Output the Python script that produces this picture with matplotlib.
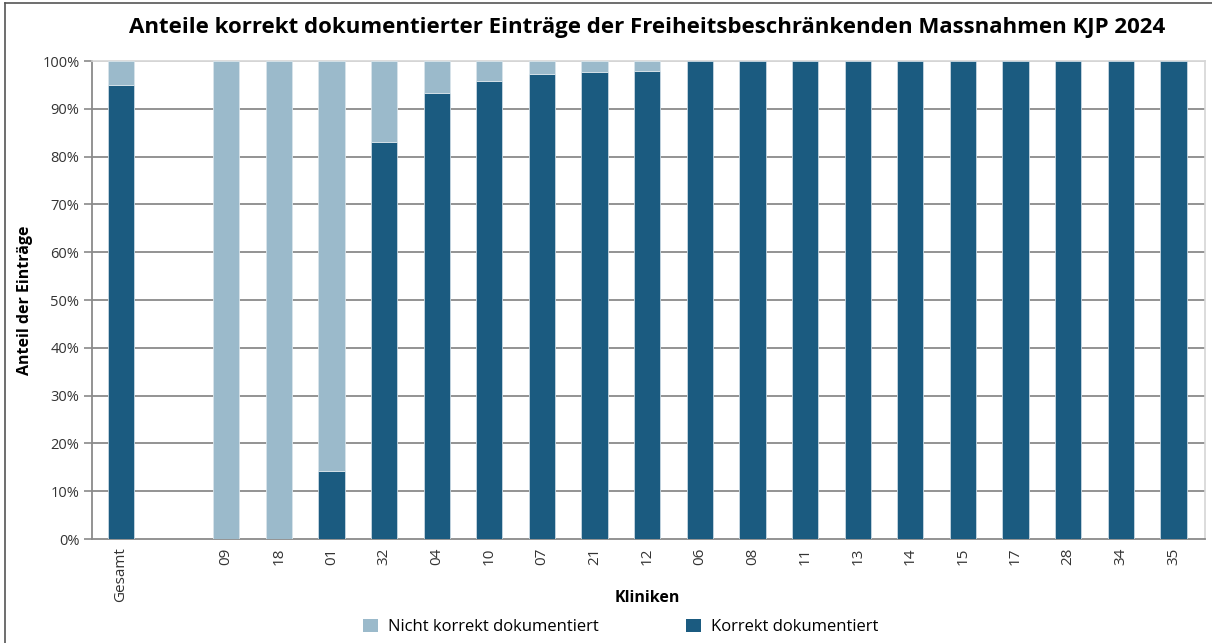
import matplotlib
matplotlib.use("Agg")
import matplotlib.pyplot as plt
from matplotlib.lines import Line2D
from matplotlib.patches import Patch
from matplotlib.ticker import PercentFormatter

plt.rcParams["font.family"] = ["Open Sans", "DejaVu Sans"]

# data (percent of entries per clinic)
kliniken = ["Gesamt", "", "09", "18", "01", "32", "04", "10", "07", "21", "12",
            "06", "08", "11", "13", "14", "15", "17", "28", "34", "35"]
korrekt = [95.0, 0, 0, 0, 14.3, 83.0, 93.4, 95.8, 97.3, 97.8, 98.0,
           100, 100, 100, 100, 100, 100, 100, 100, 100, 100]
nicht_korrekt = [5.0, 0, 100, 100, 85.7, 17.0, 6.6, 4.2, 2.7, 2.2, 2.0,
                 0, 0, 0, 0, 0, 0, 0, 0, 0, 0]

dark = "#1b5b80"
light = "#9bbacb"
grid_col = "#8a8a8a"

fig = plt.figure(figsize=(12.12, 6.43), dpi=100)
ax = fig.add_axes([0.0759, 0.1617, 0.9183, 0.7434])

x = range(len(kliniken))
ax.bar(x, korrekt, width=0.5, color=dark, edgecolor="#c8d8e2",
       linewidth=[0.6 if v > 0 else 0 for v in korrekt], zorder=3)
ax.bar(x, nicht_korrekt, width=0.5, bottom=korrekt, color=light, edgecolor="#d8e4ea",
       linewidth=[0.6 if v > 0 else 0 for v in nicht_korrekt], zorder=3)

ax.set_xlim(-0.55, len(kliniken) - 0.4)
ax.set_ylim(0, 100)
ax.set_yticks(range(0, 101, 10))
ax.yaxis.set_major_formatter(PercentFormatter(decimals=0))
ax.set_xticks(list(x))
ax.set_xticklabels(kliniken, rotation=90, fontsize=11, color="#333333")
ax.tick_params(axis="x", length=0, pad=6)
ax.tick_params(axis="y", length=6, width=1.2, color=grid_col, labelsize=10.5,
               labelcolor="#333333", pad=3)

for v in range(10, 100, 10):
    ax.axhline(v, color=grid_col, linewidth=1.3, zorder=1)
ax.axhline(100, color="#d5d5d5", linewidth=1.3, zorder=1)

for side in ["top", "right"]:
    ax.spines[side].set_color("#d5d5d5")
    ax.spines[side].set_linewidth(1.2)
for side in ["left", "bottom"]:
    ax.spines[side].set_color(grid_col)
    ax.spines[side].set_linewidth(1.3)

ax.set_ylabel("Anteil der Einträge", fontsize=11.5, fontweight="bold", labelpad=7)
fig.text(0.534, 0.07, "Kliniken", ha="center", va="center", fontsize=11.5, fontweight="bold")
fig.text(0.534, 0.958, "Anteile korrekt dokumentierter Einträge der Freiheitsbeschränkenden Massnahmen KJP 2024",
         ha="center", va="center", fontsize=16, fontweight="bold")

handles = [Patch(facecolor=light, label="Nicht korrekt dokumentiert"),
           Patch(facecolor=dark, label="Korrekt dokumentiert")]
fig.legend(handles=handles, loc="center", bbox_to_anchor=(0.512, 0.025), ncol=2,
           frameon=False, fontsize=12, handlelength=0.9, handleheight=0.9,
           columnspacing=5.2, handletextpad=0.6)

# screenshot frame on the left and top
fig.add_artist(Line2D([0.004, 0.004], [0, 0.996], color="#555555", linewidth=1.2))
fig.add_artist(Line2D([0.004, 1], [0.996, 0.996], color="#555555", linewidth=1.2))

fig.savefig("out.png", dpi=100)
